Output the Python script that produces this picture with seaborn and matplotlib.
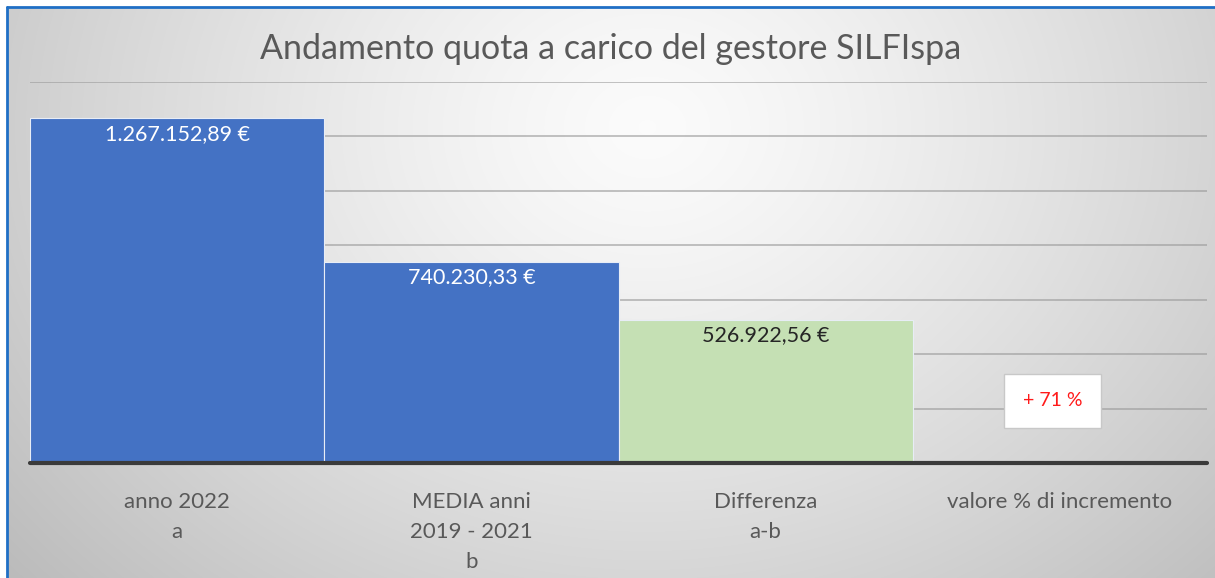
import numpy as np
import pandas as pd
import matplotlib
matplotlib.use("Agg")
import matplotlib.pyplot as plt
import seaborn as sns

# ---- data ----
title = "Andamento quota a carico del gestore SILFIspa"
categories = ["anno 2022\na", "MEDIA anni\n2019 - 2021\nb", "Differenza\na-b", "valore % di incremento"]
bar_categories = categories[:3]
values = [1267152.89, 740230.33, 526922.56]
value_labels = ["1.267.152,89 €", "740.230,33 €", "526.922,56 €"]
increment_label = "+ 71 %"
bar_colors = ["#4472C4", "#4472C4", "#C5E0B4"]
label_colors = ["white", "white", "#262626"]

sns.set_theme(style="white")
plt.rcParams["font.family"] = ["Lato", "DejaVu Sans"]

W, H, DPI = 1215, 578, 100
fig = plt.figure(figsize=(W / DPI, H / DPI), dpi=DPI)
fig.patch.set_facecolor("white")

# background gradient panel
bx0, by0 = 7, 7
bg = fig.add_axes([bx0 / W, 0, 1 - bx0 / W, 1 - by0 / H])
bg.set_axis_off()
yy, xx = np.mgrid[0:H - by0, 0:W - bx0]
cx, cy = 640, 120
r = np.sqrt(((xx - cx) / 760.0) ** 2 + ((yy - cy) / 620.0) ** 2)
val = 0.985 - 0.22 * np.clip(r, 0, 1.2) ** 1.3
img = np.dstack([val, val, val])
bg.imshow(np.clip(img, 0, 1), aspect="auto", extent=[0, 1, 0, 1], origin="upper")
bg.set_xlim(0, 1)
bg.set_ylim(0, 1)
# blue border on top and left
fig.add_artist(plt.Line2D([bx0 / W, 1], [1 - by0 / H, 1 - by0 / H], color="#1F6FC5", lw=2, transform=fig.transFigure))
fig.add_artist(plt.Line2D([bx0 / W, bx0 / W], [0, 1 - by0 / H], color="#1F6FC5", lw=2, transform=fig.transFigure))

# main axes
left, right, top, bottom = 30, 1207, 82, 463
ax = fig.add_axes([left / W, 1 - bottom / H, (right - left) / W, (bottom - top) / H])
ax.set_facecolor("none")

df = pd.DataFrame({"cat": bar_categories, "val": values})
sns.barplot(data=df, x="cat", y="val", order=categories, hue="cat",
            hue_order=bar_categories, palette=dict(zip(bar_categories, bar_colors)),
            saturation=1, width=1.0, legend=False, edgecolor="#e8edf6", linewidth=0.8,
            ax=ax, zorder=3)

ax.set_xlim(-0.5, 3.5)
ax.set_ylim(0, 1400000)
ax.set_yticks(np.arange(200000, 1400001, 200000))
ax.yaxis.grid(True, color="#9a9a9a", lw=1.4, alpha=0.6, zorder=0)
ax.set_axisbelow(True)
ax.tick_params(axis="y", left=False, labelleft=False)
ax.axhline(0, color="#3a3a3a", lw=3, zorder=5, clip_on=False)
for s in ax.spines.values():
    s.set_visible(False)
ax.set_xlabel("")
ax.set_ylabel("")
ax.tick_params(axis="x", bottom=False, pad=15, labelsize=16, labelcolor="#595959")
for t in ax.get_xticklabels():
    t.set_linespacing(1.62)
    t.set_verticalalignment("top")

# value labels
for patch, lab, col in zip(ax.patches, value_labels, label_colors):
    xc = patch.get_x() + patch.get_width() / 2
    ax.annotate(lab, (xc, patch.get_height()), xytext=(0, -4), textcoords="offset points",
                ha="center", va="top", color=col, fontsize=15.5, zorder=6)

# increment box in the 4th category
ax.text(2.975, 229000, increment_label, ha="center", va="center", color="#FF1A1A", fontsize=14,
        zorder=6, bbox=dict(boxstyle="square,pad=0.95", fc="white", ec="#c8c8c8", lw=1))

fig.text((W / 2 + 3) / W, 1 - 49 / H, title, ha="center", va="center", fontsize=24.5, color="#595959")

fig.savefig("out.png", dpi=DPI)
